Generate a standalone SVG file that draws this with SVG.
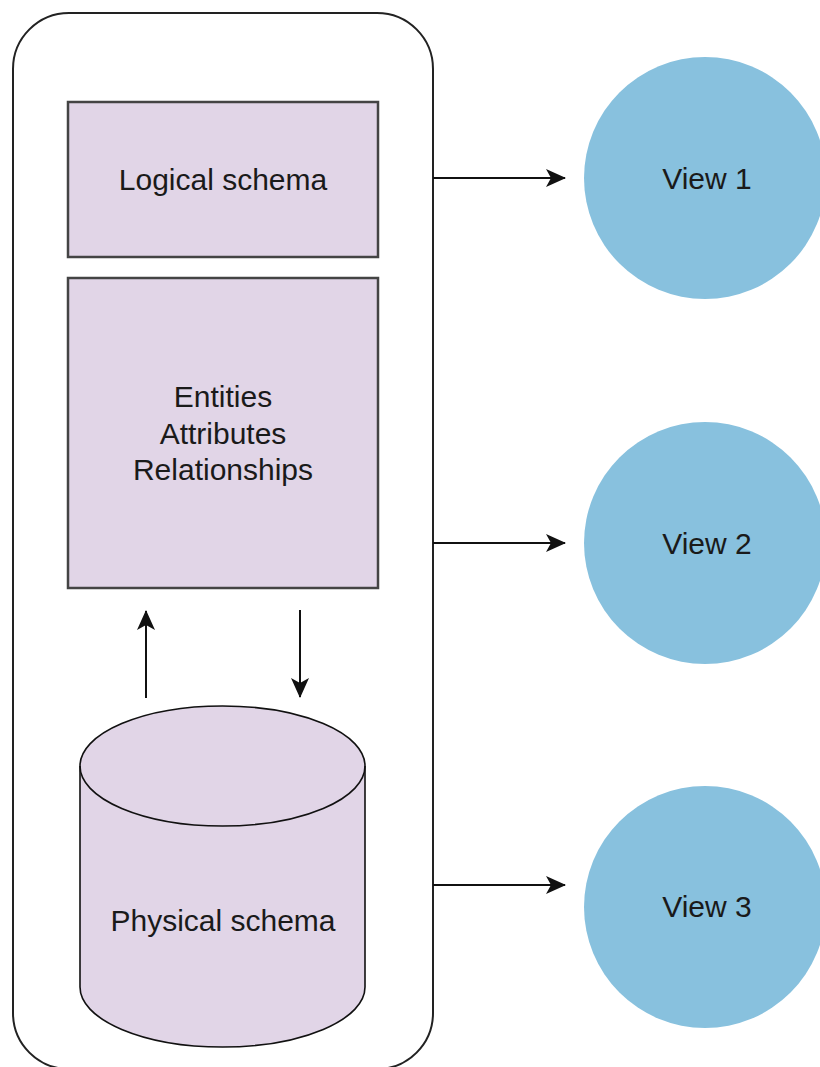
<svg xmlns="http://www.w3.org/2000/svg" width="820" height="1067" viewBox="0 0 820 1067">
<style>
.lbl{font-family:"Liberation Sans",Arial,sans-serif;font-size:30px;fill:#1a1a1a;text-anchor:middle}
.box{fill:#e1d5e7;stroke:#444;stroke-width:2.5}
.view{fill:#88c1de;stroke:none}
.conn{fill:none;stroke:#111;stroke-width:2}
</style>
<defs>
<marker id="arr" viewBox="0 0 20 20" refX="19" refY="10" markerWidth="20" markerHeight="20" markerUnits="userSpaceOnUse" orient="auto">
<path d="M0,1 L20,10 L0,19 L5,10 Z" fill="#111"/>
</marker>
</defs>
<rect width="820" height="1067" fill="#fff"/>
<g id="container">
<rect x="13" y="13" width="420" height="1056" rx="56" ry="56" fill="none" stroke="#222" stroke-width="2"/>
</g>
<g id="logical">
<rect class="box" x="68" y="102" width="310" height="155"/>
<text class="lbl" x="223" y="190">Logical schema</text>
</g>
<g id="entities">
<rect class="box" x="68" y="278" width="310" height="310"/>
<text class="lbl" x="223" y="407">Entities</text>
<text class="lbl" x="223" y="444">Attributes</text>
<text class="lbl" x="223" y="480">Relationships</text>
</g>
<g id="physical">
<path d="M80,766 L80,987 A142.5,60 0 0 0 365,987 L365,766 A142.5,60 0 0 0 80,766 Z" fill="#e1d5e7" stroke="#111" stroke-width="1.6"/>
<path d="M80,766 A142.5,60 0 0 0 365,766" fill="none" stroke="#111" stroke-width="1.6"/>
<text class="lbl" x="223" y="931">Physical schema</text>
</g>
<g id="view1">
<circle class="view" cx="705" cy="178" r="121"/>
<text class="lbl" x="707" y="189">View 1</text>
</g>
<g id="view2">
<circle class="view" cx="705" cy="543" r="121"/>
<text class="lbl" x="707" y="554">View 2</text>
</g>
<g id="view3">
<circle class="view" cx="705" cy="907" r="121"/>
<text class="lbl" x="707" y="917">View 3</text>
</g>
<g id="connectors">
<line class="conn" x1="433" y1="178" x2="565" y2="178" marker-end="url(#arr)"/>
<line class="conn" x1="433" y1="543" x2="565" y2="543" marker-end="url(#arr)"/>
<line class="conn" x1="433" y1="885" x2="565" y2="885" marker-end="url(#arr)"/>
<line class="conn" x1="146" y1="698" x2="146" y2="611" marker-end="url(#arr)"/>
<line class="conn" x1="300" y1="610" x2="300" y2="697" marker-end="url(#arr)"/>
</g>
</svg>
